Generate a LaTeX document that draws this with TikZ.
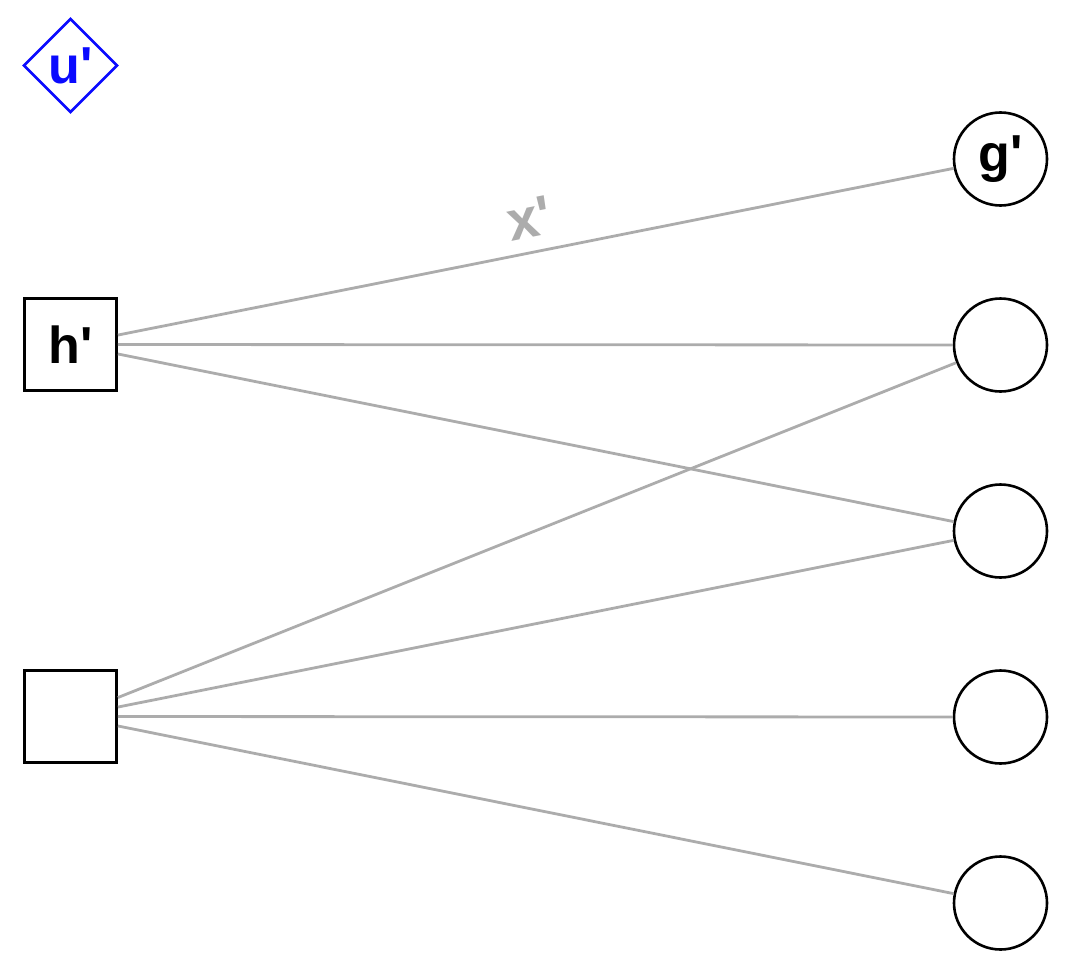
\documentclass[tikz,border=0pt]{standalone}
\usepackage{fontspec}
\setmainfont{Liberation Sans}
\usetikzlibrary{shapes.geometric}
\definecolor{edgegray}{RGB}{172,172,172}
\definecolor{ublue}{RGB}{10,10,255}
\newcommand{\q}{\textquotesingle}
\begin{document}
\begin{tikzpicture}[x=1pt,y=-1pt,
  lbl/.style={font=\fontsize{52}{60}\selectfont\bfseries},
  sq/.style={draw, line width=2.8pt, rectangle, minimum size=92pt, inner sep=0pt, lbl},
  circ/.style={draw, line width=2.6pt, circle, minimum size=93pt, inner sep=0pt, lbl},
  dia/.style={draw=ublue, text=ublue, line width=2.6pt, diamond, aspect=1, minimum size=94pt, inner sep=0pt, lbl},
  conn/.style={draw=edgegray, line width=2.8pt},
  elabel/.style={text=edgegray, font=\fontsize{56}{64}\selectfont\bfseries, inner sep=0pt}]
\useasboundingbox (0,0) rectangle (1073,971);
\node[dia] (u) at (70.5,65.5) {u\q};
\node[sq] (h) at (70.5,344.5) {h\q};
\node[sq] (s2) at (70.5,716.5) {};
\node[circ] (g) at (1000.5,159) {g\q};
\node[circ] (c2) at (1000.5,345) {};
\node[circ] (c3) at (1000.5,531) {};
\node[circ] (c4) at (1000.5,717) {};
\node[circ] (c5) at (1000.5,903) {};
\draw[conn] (h) -- node[elabel, midway, sloped, above=13pt] {x\q} (g);
\draw[conn] (h) -- (c2);
\draw[conn] (h) -- (c3);
\draw[conn] (s2) -- (c2);
\draw[conn] (s2) -- (c3);
\draw[conn] (s2) -- (c4);
\draw[conn] (s2) -- (c5);
\end{tikzpicture}
\end{document}
